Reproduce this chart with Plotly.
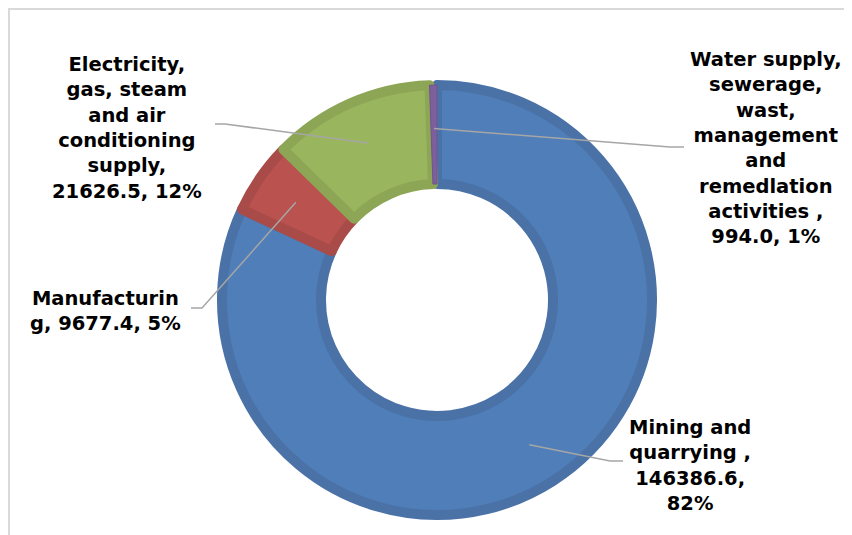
import math
import plotly.graph_objects as go

# ---------------- data ----------------
categories = [
    "Mining and quarrying ",
    "Manufacturing",
    "Electricity, gas, steam and air conditioning supply",
    "Water supply, sewerage, wast, management and remedlation activities ",
]
values = [146386.6, 9677.4, 21626.5, 994.0]
# wrapped label names (as line-broken in the reference)
wrapped_names = [
    "Mining and<br>quarrying ,",
    "Manufacturin<br>g,",
    "Electricity,<br>gas, steam<br>and air<br>conditioning<br>supply,",
    "Water supply,<br>sewerage,<br>wast,<br>management<br>and<br>remedlation<br>activities ,",
]
label_templates = ["{n}<br>{v},<br>{p}", "{n} {v}, {p}", "{n}<br>{v}, {p}", "{n}<br>{v}, {p}"]

fills = ["#4F7EB8", "#BA5350", "#99B55D", "#7E5F9E"]
bands = ["#4A72A7", "#A94C49", "#8DA656", "#6F548C"]
band_w = [10, 10, 10, 1]

W, H = 852, 535
OFF = 8                    # page body margin offset of the plot div
CX, CY = 437, 300          # pie centre (page px)
R_VIS = 220                # visible outer radius (px)
R_GEO = R_VIS - 5          # geometric radius (stroke adds 5px)
HOLE = 116 / R_GEO

def px(x):
    return (x - OFF) / W

def py(y):
    return 1 - (y - OFF) / H

fig = go.Figure()
fig.add_trace(go.Pie(
    labels=categories,
    values=values,
    sort=False,
    direction="clockwise",
    rotation=0,
    hole=HOLE,
    textinfo="none",
    hoverinfo="label+value+percent",
    marker=dict(colors=fills, line=dict(color=bands, width=band_w)),
    domain=dict(x=[px(CX - R_GEO), px(CX + R_GEO)], y=[py(CY + R_GEO), py(CY - R_GEO)]),
    showlegend=False,
))

total = sum(values)
# label layout: centre of text block, elbow of leader line, end of leader line (page px)
label_pos = [(690, 465), (105, 311), (127, 128), (766, 148)]
elbows = [(610, 461), (202, 308), (225, 124), (670, 147)]
ends = [(623, 461), (191, 308), (215, 124), (684, 147)]

annotations = []
shapes = []
cum = 0.0
for i, v in enumerate(values):
    frac = v / total
    mid = (cum + frac / 2) * 2 * math.pi
    cum += frac
    pct = f"{round(frac * 100):d}%"
    text = label_templates[i].format(n=wrapped_names[i], v=f"{v:.1f}", p=pct)
    lx, ly = label_pos[i]
    annotations.append(dict(
        x=px(lx), y=py(ly), xref="paper", yref="paper",
        text=text, showarrow=False, xanchor="center", yanchor="middle", align="center",
        font=dict(family="DejaVu Sans", size=19.5, color="#000000", weight="bold"),
    ))
    rr = 0.78 * R_VIS
    sx, sy = CX + rr * math.sin(mid), CY - rr * math.cos(mid)
    ex, ey = elbows[i]
    tx, ty = ends[i]
    shapes.append(dict(
        type="path", xref="paper", yref="paper",
        path=f"M {px(sx)},{py(sy)} L {px(ex)},{py(ey)} L {px(tx)},{py(ty)}",
        line=dict(color="#A6A6A6", width=1.5),
    ))

# chart frame
shapes.append(dict(type="line", xref="paper", yref="paper", x0=px(9), x1=px(9), y0=-0.02, y1=py(8),
                   line=dict(color="#D9D9D9", width=2)))
shapes.append(dict(type="line", xref="paper", yref="paper", x0=px(8), x1=1.02, y0=py(9), y1=py(9),
                   line=dict(color="#D9D9D9", width=2)))

fig.update_layout(
    width=W, height=H,
    margin=dict(l=0, r=0, t=0, b=0),
    paper_bgcolor="#FFFFFF",
    plot_bgcolor="#FFFFFF",
    annotations=annotations,
    shapes=shapes,
)

fig.write_html("out.html")
